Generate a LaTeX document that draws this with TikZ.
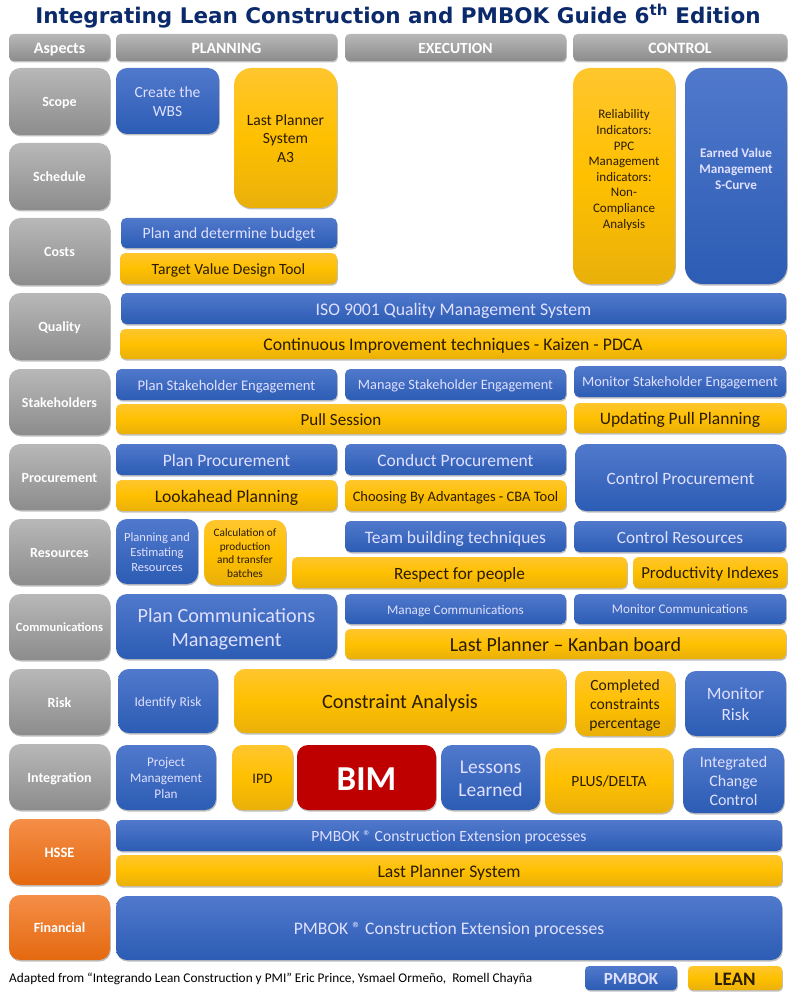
\documentclass[tikz,border=0pt]{standalone}
\usepackage{fontspec}
\setmainfont{Carlito}
\newfontfamily\titlefont{DejaVu Sans}
\usetikzlibrary{shadows}
\definecolor{gt}{HTML}{B8B8B8}\definecolor{gb}{HTML}{8C8C8C}
\definecolor{bt}{HTML}{5079CC}\definecolor{bb}{HTML}{2C5CB4}
\definecolor{yt}{HTML}{FFC62E}\definecolor{ym}{HTML}{FFC000}\definecolor{yb}{HTML}{E9B00A}
\definecolor{ot}{HTML}{F58E48}\definecolor{ob}{HTML}{E4690F}
\definecolor{titleblue}{HTML}{0B2A6B}\definecolor{darkt}{HTML}{2A1C00}
\def\bxwt{\mdseries}
\newcommand{\bxa}{\vrule height 1em depth 0pt width 0pt\relax}
\newcommand{\bxb}{\vrule height 0pt depth .24em width 0pt\relax}
\newcommand{\bxup}{\vrule height 0pt depth 18pt width 0pt\relax}
\tikzset{
 boldtext/.code={\def\bxwt{\bfseries}},
 boxbase/.style={align=center,inner sep=0pt,drop shadow={shadow xshift=0.8pt,shadow yshift=-1.5pt,opacity=.35,fill=black!70}},
 graybox/.style={boxbase,top color=gt,bottom color=gb,text=white,boldtext},
 bluebox/.style={boxbase,top color=bt,bottom color=bb,text=white!88!blue},
 yellowbox/.style={boxbase,top color=yt,bottom color=yb,middle color=ym,text=darkt},
 orangebox/.style={boxbase,top color=ot,bottom color=ob,text=white,boldtext},
 redbox/.style={boxbase,fill=red!75!black,text=white,boldtext},
}
\newcommand{\bx}[8]{%
 \pgfmathsetmacro{\bw}{#5-#3}\pgfmathsetmacro{\bh}{#6-#4}%
 \pgfmathsetmacro{\br}{0.17*min(\bw,\bh)}%
 \pgfmathsetmacro{\bcx}{(#3+#5)/2}\pgfmathsetmacro{\bcy}{(#4+#6)/2}%
 \pgfmathsetmacro{\bls}{#7*1.2}%
 \node[#2,font={\bxwt\fontsize{#7}{\bls}\selectfont},minimum width=\bw pt,minimum height=\bh pt,rounded corners=\br pt] (#1) at (\bcx,\bcy)
   {\bxa #8\bxb};}
\begin{document}
\begin{tikzpicture}[x=1pt,y=-1pt]
\useasboundingbox (0,0) rectangle (800,1000);
\fill[white] (0,0) rectangle (800,1000);
\node[text=titleblue,inner sep=0pt,font=\titlefont\bfseries] (title) at (398,16)
 {\fontsize{21.5}{26}\selectfont Integrating Lean Construction and PMBOK Guide 6\textsuperscript{th} Edition};
\bx{hA}{graybox}{9}{34}{110}{61}{16}{Aspects}
\bx{hP}{graybox}{116}{34}{337}{61}{15.7}{PLANNING}
\bx{hE}{graybox}{345}{34}{566}{61}{15.5}{EXECUTION}
\bx{hC}{graybox}{573}{34}{787}{61}{15.8}{CONTROL}
\bx{aScope}{graybox}{9}{68}{110}{135}{14}{Scope}
\bx{aSched}{graybox}{9}{143}{110}{210}{14}{Schedule}
\bx{aCosts}{graybox}{9}{218}{110}{285}{14}{Costs}
\bx{aQual}{graybox}{9}{293}{110}{360}{14}{Quality}
\bx{aStake}{graybox}{9}{369}{110}{435}{14}{Stakeholders}
\bx{aProc}{graybox}{9}{444}{110}{510}{14}{Procurement}
\bx{aRes}{graybox}{9}{519}{110}{585}{14}{Resources}
\bx{aComm}{graybox}{9}{594}{110}{660}{12.5}{Communications}
\bx{aRisk}{graybox}{9}{669}{110}{735}{14}{Risk}
\bx{aInt}{graybox}{9}{744}{110}{810}{14}{Integration}
\bx{aHsse}{orangebox}{9}{819}{110}{885}{14.5}{HSSE}
\bx{aFin}{orangebox}{9}{895}{110}{960}{14}{Financial}
\bx{wbs}{bluebox}{116}{68}{219}{134}{15.5}{Create the\\WBS}
\bx{lps}{yellowbox}{234}{68}{337}{208}{15.6}{Last Planner\\System\\A3}
\bx{budget}{bluebox}{121}{218}{337}{248}{15.6}{Plan and determine budget}
\bx{tvd}{yellowbox}{120}{253}{337}{284}{15.6}{Target Value Design Tool}
\bx{rel}{yellowbox}{573}{68}{675}{284}{13}{Reliability\\Indicators:\\PPC\\Management\\indicators:\\Non-\\Compliance\\Analysis\bxup}
\bx{evm}{bluebox,boldtext}{685}{68}{787}{284}{13.2}{Earned Value\\Management\\S-Curve\bxup}
\bx{iso}{bluebox}{121}{293}{786}{324}{17.7}{ISO 9001 Quality Management System}
\bx{kaizen}{yellowbox}{120}{329}{786}{359}{17.7}{Continuous Improvement techniques - Kaizen - PDCA}
\bx{pse}{bluebox}{116}{369}{337}{400}{14.7}{Plan Stakeholder Engagement}
\bx{mse}{bluebox}{345}{369}{566}{400}{14.3}{Manage Stakeholder Engagement}
\bx{mose}{bluebox}{574}{366}{786}{397}{14.3}{Monitor Stakeholder Engagement}
\bx{pull}{yellowbox}{116}{404}{566}{434}{17}{Pull Session}
\bx{upp}{yellowbox}{574}{403}{786}{433}{17.5}{Updating Pull Planning}
\bx{pp}{bluebox}{116}{444}{337}{475}{17.5}{Plan Procurement}
\bx{cp}{bluebox}{345}{444}{566}{475}{17.5}{Conduct Procurement}
\bx{ctp}{bluebox}{575}{444}{786}{511}{17.3}{Control Procurement}
\bx{look}{yellowbox}{116}{480}{337}{511}{17.6}{Lookahead Planning}
\bx{cba}{yellowbox}{345}{480}{566}{511}{14.5}{Choosing By Advantages - CBA Tool}
\bx{per}{bluebox}{116}{519}{198}{584}{12.5}{Planning and\\Estimating\\Resources}
\bx{calc}{yellowbox}{204}{520}{286}{585}{11.3}{Calculation of\\production\\and transfer\\batches}
\bx{team}{bluebox}{345}{521}{566}{552}{17.5}{Team building techniques}
\bx{cres}{bluebox}{574}{521}{786}{552}{17.2}{Control Resources}
\bx{respect}{yellowbox}{292}{557}{627}{588}{17.2}{Respect for people}
\bx{prod}{yellowbox}{633}{557}{787}{588}{16.8}{Productivity Indexes}
\bx{pcm}{bluebox}{116}{594}{337}{659}{20.2}{Plan Communications\\Management}
\bx{mc}{bluebox}{345}{594}{566}{624}{13.2}{Manage Communications}
\bx{moc}{bluebox}{574}{594}{786}{624}{13.1}{Monitor Communications}
\bx{kanban}{yellowbox}{345}{629}{786}{659}{20}{Last Planner -- Kanban board}
\bx{idr}{bluebox}{118}{669}{218}{733}{13.5}{Identify Risk}
\bx{ca}{yellowbox}{234}{669}{566}{733}{20.3}{Constraint Analysis}
\bx{ccp}{yellowbox}{575}{671}{675}{736}{15.6}{Completed\\constraints\\percentage}
\bx{mr}{bluebox}{685}{671}{786}{736}{17.2}{Monitor\\Risk}
\bx{pmp}{bluebox}{116}{745}{216}{810}{13.2}{Project\\Management\\Plan}
\bx{ipd}{yellowbox}{232}{745}{293}{810}{14.5}{IPD}
\bx{bim}{redbox}{297}{745}{436}{810}{35}{BIM}
\bx{ll}{bluebox}{441}{745}{540}{810}{19.5}{Lessons\\Learned}
\bx{plus}{yellowbox}{545}{748}{673}{813}{15.5}{PLUS/DELTA}
\bx{icc}{bluebox}{683}{748}{784}{813}{16}{Integrated\\Change\\Control}
\bx{hs1}{bluebox}{116}{820}{782}{851}{15.6}{PMBOK \textregistered\ Construction Extension processes}
\bx{hs2}{yellowbox}{116}{855}{782}{886}{17.7}{Last Planner System}
\bx{fin}{bluebox}{116}{896}{782}{960}{17.6}{PMBOK \textregistered\ Construction Extension processes}
\node[anchor=west,inner sep=0pt,text=black] (src) at (9,979)
 {\fontsize{13.3}{15}\selectfont Adapted from ``Integrando Lean Construction y PMI'' Eric Prince, Ysmael Ormeño,\ \ Romell Chayña};
\bx{lgP}{bluebox,boldtext}{585}{966}{677}{990}{17}{PMBOK}
\bx{lgL}{yellowbox,boldtext}{688}{966}{782}{990}{19}{LEAN}
\end{tikzpicture}
\end{document}
